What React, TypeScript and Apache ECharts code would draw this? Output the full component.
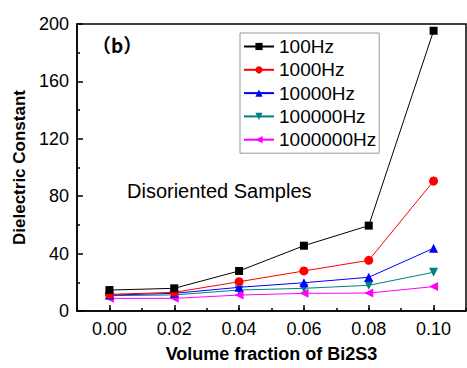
import React, { useEffect, useRef } from "react";
import * as echarts from "echarts";

const xValues = [0.0, 0.02, 0.04, 0.06, 0.08, 0.1];
const seriesNames = ["100Hz", "1000Hz", "10000Hz", "100000Hz", "1000000Hz"];
const hz100 = [14.6, 15.8, 27.9, 45.5, 59.5, 195.3];
const hz1000 = [11.6, 13.0, 20.4, 27.9, 35.3, 90.6];
const hz10000 = [11.1, 12.3, 16.5, 19.7, 23.5, 43.7];
const hz100000 = [10.7, 11.2, 14.6, 15.8, 17.9, 27.0];
const hz1000000 = [8.8, 8.8, 11.1, 12.3, 12.5, 17.0];
const majorXTicks = [0.0, 0.02, 0.04, 0.06, 0.08, 0.1];

const colors = ["#000000", "#ff0000", "#0000ff", "#008080", "#ff00ff"];
const symbols = [
  "rect",
  "circle",
  "triangle",
  "path://M0,0 L10,0 L5,9 Z",
  "path://M9,0 L9,10 L0,5 Z",
];
const symbolSizes = [8, 9, 9, 9, 9];

const FONT = "Liberation Sans, Arial, sans-serif";

export default function App() {
  const ref = useRef<HTMLDivElement>(null);
  useEffect(() => {
    if (!ref.current) return;
    const chart = echarts.init(ref.current, null, { renderer: "svg" });
    const all = [hz100, hz1000, hz10000, hz100000, hz1000000];
    const option: any = {
      animation: false,
      backgroundColor: "#ffffff",
      textStyle: { fontFamily: FONT },
      grid: {
        left: 77,
        top: 24,
        right: 1,
        bottom: 57,
        show: true,
        borderColor: "#000",
        borderWidth: 1.5,
      },
      legend: {
        orient: "vertical",
        left: 240,
        top: 33,
        itemWidth: 30,
        itemHeight: 9,
        itemGap: 4.3,
        padding: [4, 3, 4, 3],
        borderColor: "#999",
        borderWidth: 1,
        data: seriesNames,
        textStyle: { fontSize: 19, fontFamily: FONT, color: "#000", lineHeight: 19 },
      },
      graphic: [
        {
          type: "text",
          left: 92,
          top: 35,
          style: {
            text: "（b）",
            fontSize: 19,
            fontWeight: "bold",
            fontFamily: "Noto Sans CJK SC, Liberation Sans, sans-serif",
            fill: "#000",
          },
        },
        {
          type: "text",
          left: 127,
          top: 181,
          style: {
            text: "Disoriented Samples",
            fontSize: 20,
            fontFamily: FONT,
            fill: "#000",
          },
        },
      ],
      xAxis: [
        {
          type: "value",
          min: -0.01,
          max: 0.11,
          name: "Volume fraction of Bi2S3",
          nameLocation: "middle",
          nameGap: 34,
          nameTextStyle: { fontSize: 18, fontWeight: "bold", color: "#000", fontFamily: FONT },
          axisLine: { show: true, onZero: false, lineStyle: { color: "#000", width: 1.5 } },
          axisTick: {
            show: true,
            inside: true,
            length: 6,
            customValues: majorXTicks,
            lineStyle: { color: "#000", width: 1.5 },
          },
          axisLabel: {
            customValues: majorXTicks,
            fontSize: 18,
            color: "#000",
            margin: 9,
            fontFamily: FONT,
            formatter: (v: number) => v.toFixed(2),
          },
          splitLine: { show: false },
        },
        {
          type: "value",
          min: -0.01,
          max: 0.11,
          interval: 0.01,
          position: "bottom",
          axisLine: { show: false, onZero: false },
          axisTick: { show: true, inside: true, length: 3, lineStyle: { color: "#000", width: 1.5 } },
          axisLabel: { show: false },
          splitLine: { show: false },
        },
      ],
      yAxis: {
        type: "value",
        min: 0,
        max: 200,
        interval: 40,
        name: "Dielectric Constant",
        nameLocation: "middle",
        nameGap: 45,
        nameTextStyle: { fontSize: 17, fontWeight: "bold", color: "#000", fontFamily: FONT },
        axisLine: { show: true, onZero: false, lineStyle: { color: "#000", width: 1.5 } },
        axisTick: { show: true, inside: true, length: 6, lineStyle: { color: "#000", width: 1.5 } },
        minorTick: { show: true, splitNumber: 2, length: 3, lineStyle: { color: "#000", width: 1.5 } },
        axisLabel: { fontSize: 18, color: "#000", margin: 8, fontFamily: FONT },
        splitLine: { show: false },
      },
      series: seriesNames.map((name, i) => ({
        name,
        type: "line",
        xAxisIndex: 0,
        data: xValues.map((x, j) => [x, all[i][j]]),
        symbol: symbols[i],
        symbolSize: symbolSizes[i],
        showAllSymbol: true,
        lineStyle: { color: colors[i], width: 1 },
        itemStyle: { color: colors[i] },
        z: 10 - i,
      })),
    };
    chart.setOption(option);
    return () => chart.dispose();
  }, []);
  return (
    <div
      ref={ref}
      style={{ position: "fixed", left: 0, top: 0, width: 467, height: 368 }}
    />
  );
}
